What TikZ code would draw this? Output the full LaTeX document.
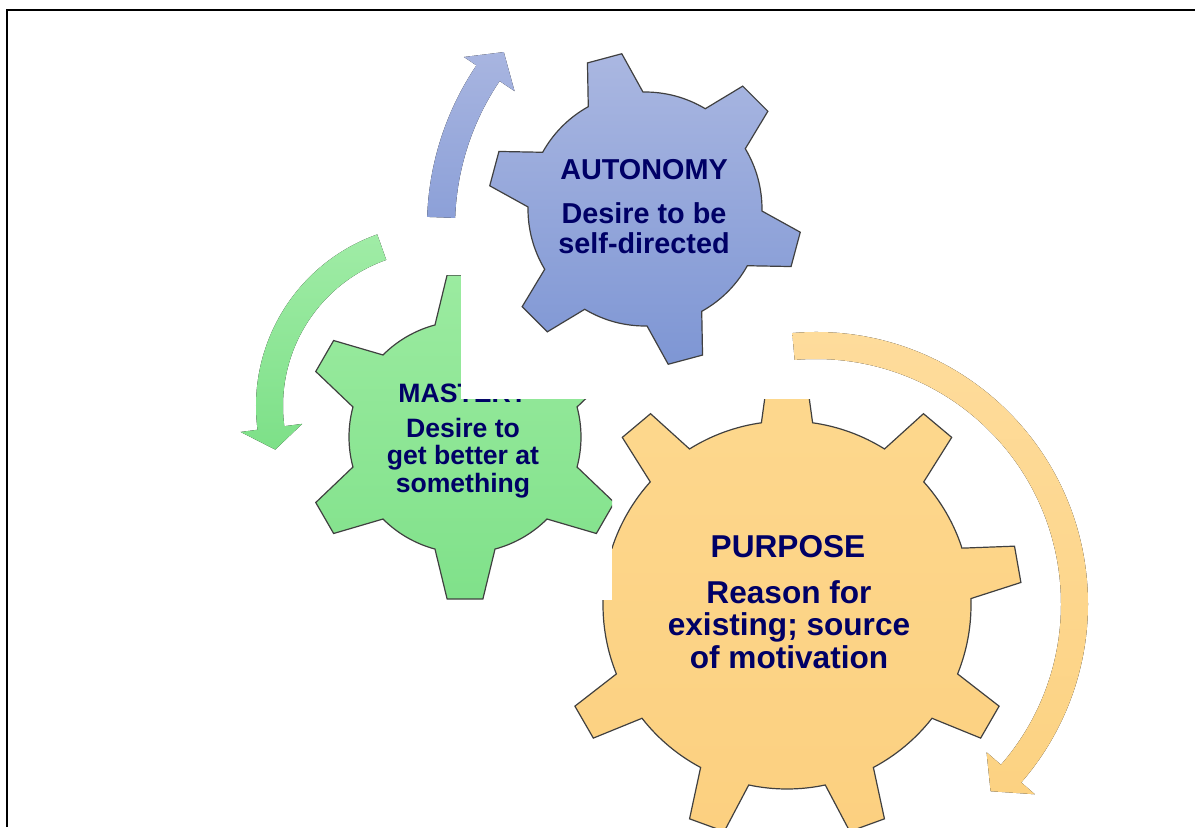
\documentclass[tikz,border=0pt]{standalone}
\usepackage{fontspec}
\setmainfont{Liberation Sans}
\usepackage{tikz}

\definecolor{navytext}{RGB}{0,0,102}
\definecolor{bluetop}{RGB}{170,183,225}
\definecolor{bluebot}{RGB}{126,150,212}
\definecolor{greentop}{RGB}{155,235,160}
\definecolor{greenbot}{RGB}{128,225,138}
\definecolor{orangetop}{RGB}{253,216,142}
\definecolor{orangebot}{RGB}{252,208,128}
\definecolor{bluearr}{RGB}{168,181,224}
\definecolor{bluearrbot}{RGB}{140,160,216}
\definecolor{greenarr}{RGB}{160,236,166}
\definecolor{greenarrbot}{RGB}{125,224,136}
\definecolor{orangearr}{RGB}{254,220,156}
\definecolor{orangearrbot}{RGB}{252,210,130}

\begin{document}
\begin{tikzpicture}[x=0.5pt, y=0.5pt,
  gearline/.style={draw=black!75, line width=0.6pt},
  label/.style={text=navytext, inner sep=0pt, align=center, anchor=base},
  bluelabel/.style={label, font=\fontsize{14.4}{15}\selectfont\bfseries},
  greenlabel/.style={label, font=\fontsize{13.3}{13.75}\selectfont\bfseries},
  orangelabel/.style={label, font=\fontsize{15.8}{16.25}\selectfont\bfseries}]
\useasboundingbox (0,0) rectangle (1195,827);

\draw[line width=1pt] (7,0) -- (7,817) -- (1195,817);

% purpose gear
\begin{scope}[shift={(787,222)}]
\draw[gearline, top color=orangetop, bottom color=orangebot]
  (58:184) \foreach \a in {90,130,...,410} {
    arc[start angle=\a-32, end angle=\a-8, radius=184]
    -- ({\a-4.5}:235) -- ({\a+4.5}:235) -- ({\a+8}:184)
  } -- cycle;
\end{scope}
\node[orangelabel] (purpose) at (788,270) {PURPOSE};
\node[orangelabel] (purposetext) at (789,159) {Reason for\\existing; source\\of motivation};

% mastery gear
\begin{scope}
\clip (313,227) rectangle (612,552);
\fill[white] (313,227) rectangle (612,552);
\begin{scope}[shift={(465,390)}]
\draw[gearline, top color=greentop, bottom color=greenbot]
  (-15:116) \foreach \a in {30,90,...,330} {
    arc[start angle=\a-45, end angle=\a-15, radius=116]
    -- ({\a-6.3}:163) -- ({\a+6.3}:163) -- ({\a+15}:116)
  } -- cycle;
\end{scope}
\end{scope}
\node[greenlabel] (mastery) at (463,425) {MASTERY};
\node[greenlabel] (masterytext) at (463,335) {Desire to\\get better at\\something};

% autonomy gear
\fill[white] (461,428) rectangle (812,787);
\begin{scope}[shift={(645,618)}]
\draw[gearline, top color=bluetop, bottom color=bluebot]
  (-1:117) \foreach \a in {45,105,...,345} {
    arc[start angle=\a-46, end angle=\a-14, radius=117]
    -- ({\a-6.5}:157) -- ({\a+6.5}:157) -- ({\a+14}:117)
  } -- cycle;
\end{scope}
\node[bluelabel] (autonomy) at (644,647) {AUTONOMY};
\node[bluelabel] (autonomytext) at (644,574) {Desire to be\\self-directed};

% arrows
\begin{scope}[shift={(716,600)}]
\fill[top color=bluearr, bottom color=bluearrbot]
  (178:289) arc[start angle=178, end angle=146, radius=289]
  -- (146:304) -- (140.5:275) -- (146:243) -- (146:261)
  arc[start angle=146, end angle=178, radius=261] -- cycle;
\end{scope}
\begin{scope}[shift={(438,421)}]
\fill[top color=greenarr, bottom color=greenarrbot]
  (109.5:182) arc[start angle=109.5, end angle=187.5, radius=182]
  -- (187.5:199) -- (195:168.5) -- (187.5:137) -- (187.5:155)
  arc[start angle=187.5, end angle=109.5, radius=155] -- cycle;
\end{scope}
\begin{scope}[shift={(816,223)}]
\fill[top color=orangearr, bottom color=orangearrbot]
  (95:272) arc[start angle=95, end angle=-41, radius=272]
  -- (-41:290) -- (-47:256) -- (-41:226) -- (-41:245)
  arc[start angle=-41, end angle=95, radius=245] -- cycle;
\end{scope}
\end{tikzpicture}
\end{document}
